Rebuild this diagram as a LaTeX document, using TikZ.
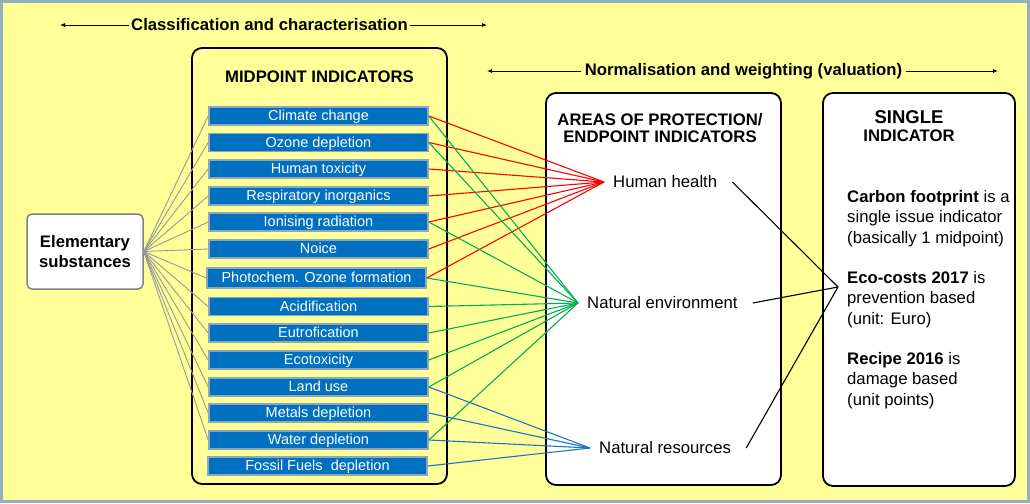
\documentclass[tikz,border=0pt]{standalone}
\usepackage{fontspec}
\setmainfont{Liberation Sans}
\usepackage{xcolor}
\usetikzlibrary{arrows.meta}

\definecolor{bgyellow}{HTML}{FFFF99}
\definecolor{frameedge}{HTML}{95AFC0}
\definecolor{midblue}{HTML}{0070C0}
\definecolor{boxedge}{HTML}{8EA6BE}
\definecolor{lnred}{HTML}{FF0000}
\definecolor{lngreen}{HTML}{00B050}
\definecolor{lnblue}{HTML}{1A74C4}

\begin{document}
\begin{tikzpicture}[x=1pt,y=-1pt,
    every node/.style={font=\fontsize{16.7}{20}\selectfont},
    panel/.style={draw=black,line width=1.8pt,fill=white,rounded corners=10pt},
    midbox/.style={draw=boxedge,line width=1.6pt,fill=midblue,text=white,
      minimum width=219pt,minimum height=18pt,inner sep=0pt,
      text height=11.5pt,text depth=2pt,font=\fontsize{14.5}{16}\selectfont},
    endlabel/.style={inner xsep=9pt,inner ysep=0pt},
    headarrow/.style={line width=0.8pt,-{Latex[length=5pt,width=4pt]}},
    fan/.style={line width=1.1pt}]
    \useasboundingbox (0,0) rectangle (1030,503);

    % Background
    \draw[fill=bgyellow,draw=frameedge,line width=3pt] (1.5,1.5) rectangle (1028.5,501.5);

    % Headers
    \node[inner xsep=2pt,font=\bfseries\fontsize{16.7}{20}\selectfont] (classif) at (269.5,25) {Classification and characterisation};
    \coordinate (classifL) at (60,25);
    \coordinate (classifR) at (487,25);
    \draw[headarrow] (classif.west) -- (classifL);
    \draw[headarrow] (classif.east) -- (classifR);

    \node[inner xsep=4pt,font=\bfseries\fontsize{16.7}{20}\selectfont] (normal) at (743.5,71) {Normalisation and weighting (valuation)};
    \coordinate (normalL) at (487,71);
    \coordinate (normalR) at (998,71);
    \draw[headarrow] (normal.west) -- (normalL);
    \draw[headarrow] (normal.east) -- (normalR);

    % Panels
    \draw[panel,fill=bgyellow] (192,48) rectangle (447,484);
    \node[font=\bfseries\fontsize{16.7}{20}\selectfont] (midtitle) at (319.5,77) {MIDPOINT INDICATORS};

    \draw[panel] (546,93) rectangle (781,485);
    \node[anchor=north,inner sep=0pt,align=center,font=\bfseries\fontsize{16.7}{17}\selectfont] (endtitle) at (660,113.5) {AREAS OF PROTECTION/\\ENDPOINT INDICATORS};

    \draw[panel] (823,93) rectangle (1015,486);
    \node[font=\bfseries\fontsize{18.5}{20}\selectfont] (singletitle) at (909,117) {SINGLE};
    \node[font=\bfseries\fontsize{16.7}{20}\selectfont] (singletitleb) at (909,136) {INDICATOR};
    \node[anchor=north west,inner sep=0pt,align=left,font=\fontsize{16.7}{20.4}\selectfont] (singletext) at (847,190)
      {\textbf{Carbon footprint} is a\\single issue indicator\\(basically 1 midpoint)\\[19.8pt]
       \textbf{Eco-costs 2017} is\\prevention based\\(unit: Euro)\\[19.8pt]
       \textbf{Recipe 2016} is\\damage based\\(unit points)};

    % Elementary substances
    \node[draw=gray,line width=1.5pt,fill=white,rounded corners=5pt,minimum width=116pt,minimum height=75pt,
      align=center,font=\bfseries\fontsize{16.7}{20}\selectfont] (elem) at (85,251.5) {Elementary\\substances};

    % Midpoint indicators
    \node[midbox] (climate) at (318.5,116) {Climate change};
    \node[midbox] (ozone) at (318.5,142.5) {Ozone depletion};
    \node[midbox] (humtox) at (318.5,169) {Human toxicity};
    \node[midbox] (resp) at (318.5,196) {Respiratory inorganics};
    \node[midbox] (ionis) at (318.5,222) {Ionising radiation};
    \node[midbox] (noice) at (318.5,249) {Noice};
    \node[midbox,minimum height=20pt] (photo) at (316.5,278) {Photochem. Ozone formation};
    \node[midbox] (acid) at (318.5,306.5) {Acidification};
    \node[midbox] (eutro) at (318.5,333) {Eutrofication};
    \node[midbox] (ecotox) at (318.5,360) {Ecotoxicity};
    \node[midbox] (land) at (318.5,387) {Land use};
    \node[midbox] (metals) at (318.5,413) {Metals depletion};
    \node[midbox] (water) at (318.5,440) {Water depletion};
    \node[midbox] (fossil) at (317.5,466) {Fossil Fuels~ depletion};

    % Endpoints
    \node[endlabel,anchor=west] (hh) at (604,182) {Human health};
    \node[endlabel,anchor=west] (ne) at (578,303) {Natural environment};
    \node[endlabel,anchor=west] (nr) at (590,448) {Natural resources};
    \coordinate (single) at (838,287);

    % Connections
    \foreach \m in {climate,ozone,humtox,resp,ionis,noice,photo,acid,eutro,ecotox,land,metals,water}
      \draw[fan,line width=0.9pt,color=gray!80] (elem.east) -- (\m.west);
    \foreach \m in {climate,ozone,humtox,resp,ionis,noice,photo}
      \draw[fan,lnred] (\m.east) -- (hh.west);
    \foreach \m in {climate,ozone,ionis,photo,acid,eutro,ecotox,land,water}
      \draw[fan,lngreen] (\m.east) -- (ne.west);
    \foreach \m in {land,metals,water,fossil}
      \draw[fan,lnblue] (\m.east) -- (nr.west);
    \foreach \e in {hh,ne,nr}
      \draw[line width=1.1pt] ([xshift=6pt]\e.east) -- (single);
\end{tikzpicture}
\end{document}
